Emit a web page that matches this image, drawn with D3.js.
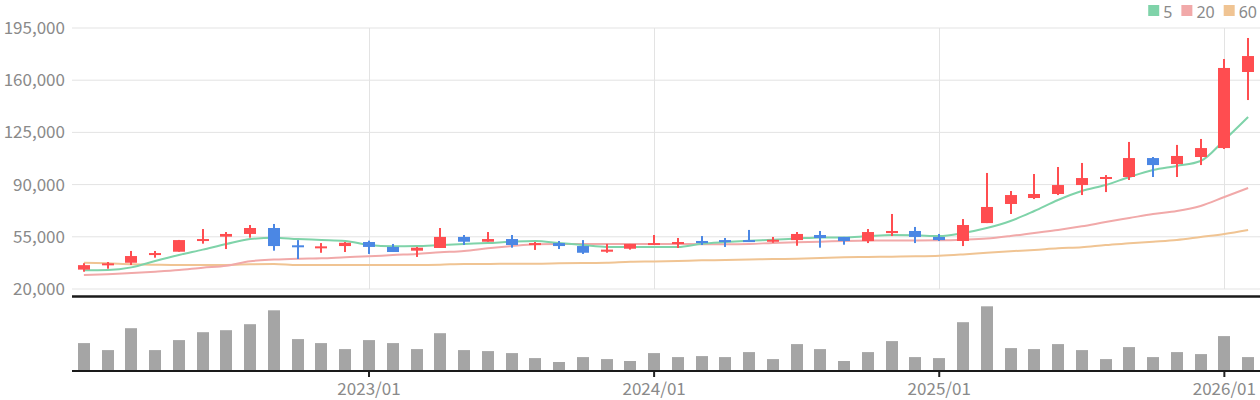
<!DOCTYPE html>
<html>
<head>
<meta charset="utf-8">
<script src="https://cdn.jsdelivr.net/npm/d3@7"></script>
<style>
  body { margin: 0; background: #fff; }
  svg text { font-family: "Noto Sans CJK KR", "Noto Sans", sans-serif; fill: #8a8a8a; }
  svg text.legend-label { font-family: "Noto Sans", "Liberation Sans", sans-serif; }
</style>
</head>
<body>
<div id="chart"></div>
<script>
// monthly candles 2022/01 .. 2026/02
const months = [
  "2022/01","2022/02","2022/03","2022/04","2022/05","2022/06","2022/07","2022/08","2022/09","2022/10","2022/11","2022/12",
  "2023/01","2023/02","2023/03","2023/04","2023/05","2023/06","2023/07","2023/08","2023/09","2023/10","2023/11","2023/12",
  "2024/01","2024/02","2024/03","2024/04","2024/05","2024/06","2024/07","2024/08","2024/09","2024/10","2024/11","2024/12",
  "2025/01","2025/02","2025/03","2025/04","2025/05","2025/06","2025/07","2025/08","2025/09","2025/10","2025/11","2025/12",
  "2026/01","2026/02"
];

const openP  = [33000,36300,37600,42800,45000,52200,55100,56900,60900,49300,47700,48800,
                51500,48200,45700,47500,54900,51700,53500,49700,50800,48800,45000,47000,
                49500,50200,52200,52800,52800,51700,52800,56200,54900,52200,57500,58900,
                54900,52200,64200,77000,81000,83700,89700,93800,95100,107800,103800,108500,
                114500,165500];
const highP  = [37300,38100,45500,45500,52900,60200,58200,62900,63600,52800,50800,51500,
                52400,50200,48200,60900,56200,58200,56200,51500,52200,52800,50200,50200,
                56200,54200,55500,54200,59600,54900,58200,58900,54900,60200,70300,61600,
                56900,66900,97800,85700,97100,101800,104500,96400,118600,108500,116600,120600,
                174200,188300];
const lowP   = [31600,33600,36100,41000,45000,50400,46800,54400,45700,40100,44300,44800,
                43500,44800,41500,47500,49500,51700,47700,46200,46800,43500,44300,46400,
                49500,47500,49500,48200,51500,51000,49000,47700,49700,50800,55500,50800,
                52200,48800,64200,70300,80300,83000,83000,85000,93100,95100,95100,103100,
                113900,146700];
const closeP = [36000,37200,42100,44100,52800,53500,56900,60900,48800,48000,48600,51000,
                48200,44800,47700,54900,51700,53500,49500,50800,48800,44300,46400,50200,
                50800,51500,50800,51500,51500,53000,56900,54200,52200,58200,58900,54900,
                52800,62900,75000,83000,83700,89700,94400,95100,107800,103100,109200,114500,
                168200,176200];

const ma5  = [32500,32700,34500,38800,42800,46400,50200,53500,54400,53500,52900,52200,
              49500,48600,48800,49500,50200,50800,51700,52200,50800,49500,48200,48200,
              48200,48200,50400,51500,52400,53000,53800,54600,54600,55500,56200,56000,
              55500,57500,60900,65600,72300,79700,85700,89700,95100,99800,102500,105800,
              119900,135300];
const ma20 = [29400,29900,30700,31600,32700,34300,35600,38600,39700,40300,40600,41300,
              41900,42800,43500,44600,45500,47300,48800,50000,50200,50200,50200,50200,
              50200,50200,50000,50000,50200,50900,51400,51700,52200,52400,52600,52600,
              52700,53100,53800,55500,57600,59600,62000,64900,67600,70300,72300,75700,
              81700,87700];
const ma60 = [37600,37200,36600,36300,36100,36100,36100,36600,36800,36100,36100,36100,
              36100,36100,36100,36300,36800,36800,37000,37000,37200,37400,37600,38300,
              38500,38800,39200,39400,39700,40100,40300,40800,41300,41500,41700,41900,
              42300,43200,44300,45300,46200,47300,48000,49500,50600,51700,52900,54900,
              56900,59600];

// volume, thousands
const volume = [279,209,428,209,309,388,408,468,607,319,279,219,
                309,279,219,378,209,199,179,129,90,139,119,100,
                179,139,149,139,189,119,269,219,100,189,299,139,
                129,488,647,229,219,269,209,119,239,139,189,169,
                349,139];

const priceTicks = [20000,55000,90000,125000,160000,195000];
const yearTicks = ["2023/01","2024/01","2025/01","2026/01"];
const legendNames = ["5","20","60"];
const legendColors = ["#7fd3a9","#f1a9a9","#f0c493"];

const width = 1260, height = 400;
const left = 72, right = 1260;
const priceTop = 28, priceBottom = 289;
const volTop = 297, volBottom = 371;

const svg = d3.select("#chart").append("svg")
  .attr("width", width)
  .attr("height", height);

const x = d3.scaleBand().domain(months).range([left, right]).padding(0);
const cx = d => x(d) + x.bandwidth() / 2;
const bodyW = 12;

const y = d3.scaleLinear().domain([20000, 195000]).range([priceBottom, priceTop]);
const yv = d3.scaleLinear().domain([0, 740]).range([volBottom, volTop]);

// grid
svg.append("g").selectAll("line")
  .data(priceTicks)
  .enter().append("line")
  .attr("x1", left).attr("x2", right)
  .attr("y1", d => y(d)).attr("y2", d => y(d))
  .attr("stroke", "#e3e3e3").attr("stroke-width", 1);

svg.append("g").selectAll("line")
  .data(yearTicks)
  .enter().append("line")
  .attr("x1", d => Math.round(cx(d)) + 0.5).attr("x2", d => Math.round(cx(d)) + 0.5)
  .attr("y1", priceTop).attr("y2", priceBottom)
  .attr("stroke", "#e3e3e3").attr("stroke-width", 1);

// y axis labels
const yAxis = svg.append("g")
  .attr("transform", `translate(${left},0)`)
  .call(d3.axisLeft(y).tickValues(priceTicks).tickSize(0).tickPadding(7).tickFormat(d3.format(",")));
yAxis.select(".domain").remove();
yAxis.selectAll("text").style("font-size", "17px").attr("fill", "#8a8a8a");

// moving averages
const maLine = d3.line()
  .x((d, i) => cx(months[i]))
  .y(d => y(d))
  .curve(d3.curveMonotoneX);

[ma60, ma20, ma5].forEach((s, k) => {
  svg.append("path")
    .datum(s)
    .attr("fill", "none")
    .attr("stroke", legendColors[2 - k])
    .attr("stroke-width", 2)
    .attr("d", maLine);
});

// candles
const candles = svg.append("g").selectAll("g")
  .data(months)
  .enter().append("g");

const col = i => closeP[i] >= openP[i] ? "#ff4d50" : "#4b87e4";

candles.append("rect")
  .attr("x", d => Math.round(cx(d)) - 1)
  .attr("width", 2)
  .attr("y", (d, i) => y(highP[i]))
  .attr("height", (d, i) => y(lowP[i]) - y(highP[i]))
  .attr("fill", (d, i) => col(i));

candles.append("rect")
  .attr("x", d => Math.round(cx(d)) - bodyW / 2)
  .attr("width", bodyW)
  .attr("y", (d, i) => y(Math.max(openP[i], closeP[i])))
  .attr("height", (d, i) => Math.max(2, Math.abs(y(openP[i]) - y(closeP[i]))))
  .attr("fill", (d, i) => col(i));

// separator
svg.append("line")
  .attr("x1", left).attr("x2", right)
  .attr("y1", volTop - 0.5).attr("y2", volTop - 0.5)
  .attr("stroke", "#1a1a1a").attr("stroke-width", 2.5);

// volume bars
svg.append("g").selectAll("rect")
  .data(volume)
  .enter().append("rect")
  .attr("x", (d, i) => Math.round(cx(months[i])) - bodyW / 2)
  .attr("width", bodyW)
  .attr("y", d => yv(d))
  .attr("height", d => volBottom - yv(d))
  .attr("fill", "#a5a5a5");

// bottom axis
const xAxis = svg.append("g")
  .attr("transform", `translate(0,${volBottom})`)
  .call(d3.axisBottom(x).tickValues(yearTicks).tickSize(6).tickPadding(6));
xAxis.select(".domain").remove();
xAxis.selectAll(".tick line").attr("stroke", "#222").attr("stroke-width", 2);
xAxis.selectAll("text").style("font-size", "17px").attr("fill", "#8a8a8a");

svg.append("line")
  .attr("x1", left).attr("x2", right)
  .attr("y1", volBottom).attr("y2", volBottom)
  .attr("stroke", "#1a1a1a").attr("stroke-width", 2);

// legend (right aligned)
const legend = svg.append("g");
let lx = 1257;
for (let k = legendNames.length - 1; k >= 0; k--) {
  const t = legend.append("text")
    .attr("class", "legend-label")
    .attr("y", 17.5)
    .style("font-size", "16px")
    .attr("fill", "#8a8a8a")
    .attr("text-anchor", "end")
    .attr("x", lx)
    .text(legendNames[k]);
  const w = t.node().getComputedTextLength();
  legend.append("rect")
    .attr("x", lx - w - 15)
    .attr("y", 5)
    .attr("width", 11)
    .attr("height", 11)
    .attr("fill", legendColors[k]);
  lx = lx - w - 24;
}
</script>
</body>
</html>
